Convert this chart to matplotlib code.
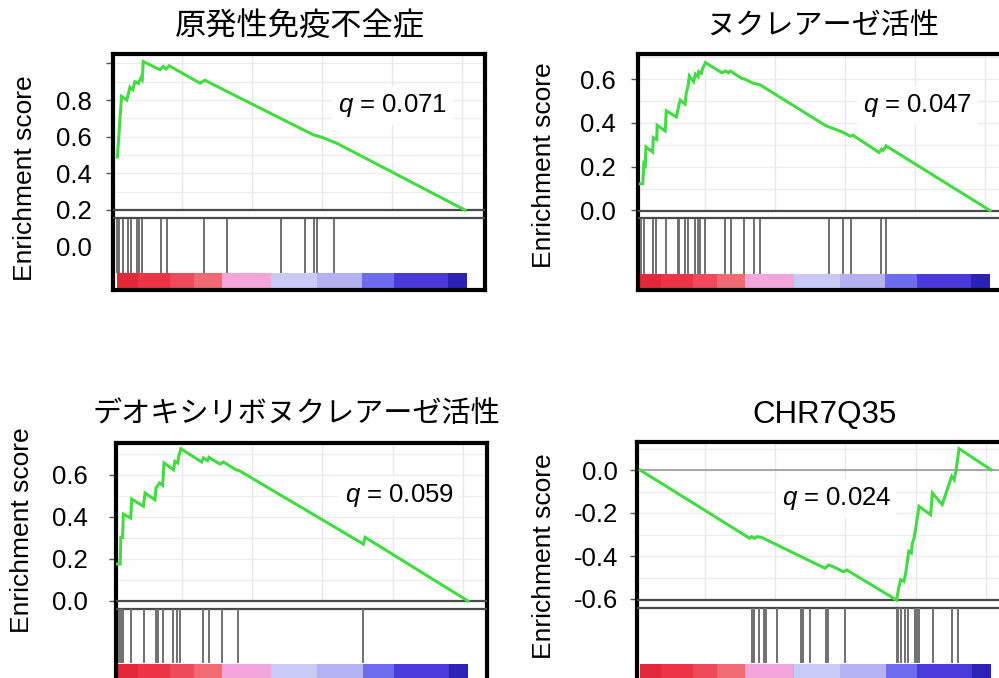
import numpy as np
import matplotlib
matplotlib.use("Agg")
import matplotlib.pyplot as plt

plt.rcParams['font.family'] = ['Liberation Sans', 'Noto Sans CJK JP']
plt.rcParams['mathtext.fontset'] = 'custom'
plt.rcParams['mathtext.it'] = 'Liberation Sans:italic'
plt.rcParams['mathtext.rm'] = 'Liberation Sans'

W, H = 999, 678

titles = ["原発性免疫不全症", "ヌクレアーゼ活性", "デオキシリボヌクレアーゼ活性", "CHR7Q35"]
q_values = ["0.071", "0.047", "0.059", "0.024"]

# running enrichment score (x = position in ranked list, 0..1)
es1_x = [0.001, 0.009, 0.013, 0.028, 0.037, 0.045, 0.051, 0.061, 0.068, 0.072, 0.075, 0.123, 0.132,
         0.140, 0.149, 0.237, 0.251, 0.313, 0.561, 0.585, 0.628, 0.994]
es1_y = [0.49, 0.71, 0.82, 0.80, 0.87, 0.856, 0.90, 0.89, 0.92, 0.91, 1.01, 0.965, 0.983,
         0.969, 0.987, 0.892, 0.908, 0.848, 0.61, 0.597, 0.564, 0.20]
hits1 = [0.001, 0.004, 0.007, 0.018, 0.032, 0.039, 0.056, 0.064, 0.070, 0.125, 0.144, 0.249, 0.313,
         0.468, 0.537, 0.563, 0.572, 0.62]

es2_x = [0.001, 0.008, 0.011, 0.015, 0.017, 0.036, 0.038, 0.048, 0.049, 0.072, 0.075, 0.104, 0.111,
         0.115, 0.129, 0.132, 0.137, 0.141, 0.153, 0.158, 0.166, 0.168, 0.175, 0.179, 0.187, 0.234,
         0.244, 0.253, 0.258, 0.291, 0.301, 0.320, 0.344, 0.529, 0.539, 0.577, 0.587, 0.601, 0.608,
         0.683, 0.690, 0.695, 0.703, 1.0]
es2_y = [0.122, 0.122, 0.214, 0.206, 0.29, 0.267, 0.333, 0.324, 0.389, 0.363, 0.455, 0.427, 0.481,
         0.504, 0.486, 0.537, 0.565, 0.614, 0.588, 0.623, 0.611, 0.634, 0.626, 0.649, 0.675, 0.629,
         0.637, 0.629, 0.637, 0.603, 0.599, 0.583, 0.573, 0.389, 0.382, 0.359, 0.351, 0.339, 0.344,
         0.265, 0.28, 0.275, 0.295, 0.0]
hits2 = [0.004, 0.011, 0.036, 0.046, 0.074, 0.109, 0.112, 0.129, 0.137, 0.158, 0.166, 0.172, 0.185,
         0.242, 0.26, 0.296, 0.325, 0.344, 0.539, 0.579, 0.604, 0.689, 0.703]

es3_x = [0.001, 0.009, 0.011, 0.016, 0.018, 0.039, 0.042, 0.075, 0.080, 0.108, 0.111, 0.121, 0.130,
         0.134, 0.161, 0.165, 0.173, 0.177, 0.182, 0.241, 0.246, 0.258, 0.262, 0.293, 0.303, 0.339,
         0.348, 0.702, 0.707, 1.0]
es3_y = [0.176, 0.176, 0.303, 0.303, 0.414, 0.395, 0.486, 0.451, 0.514, 0.482, 0.538, 0.562, 0.551,
         0.657, 0.625, 0.665, 0.657, 0.697, 0.725, 0.662, 0.681, 0.668, 0.684, 0.652, 0.662, 0.625,
         0.621, 0.271, 0.303, 0.0]
hits3 = [0.006, 0.011, 0.018, 0.039, 0.077, 0.111, 0.118, 0.132, 0.16, 0.17, 0.179, 0.244, 0.263,
         0.298, 0.344, 0.702]

es4_x = [0.0, 0.313, 0.318, 0.326, 0.333, 0.347, 0.527, 0.537, 0.551, 0.579, 0.589, 0.731, 0.738,
         0.743, 0.752, 0.757, 0.766, 0.773, 0.776, 0.781, 0.795, 0.828, 0.833, 0.861, 0.888, 0.895,
         0.9, 0.909, 1.0]
es4_y = [0.0, -0.318, -0.31, -0.318, -0.31, -0.314, -0.457, -0.442, -0.45, -0.473, -0.465, -0.605,
         -0.541, -0.51, -0.518, -0.479, -0.378, -0.386, -0.34, -0.316, -0.169, -0.208, -0.107,
         -0.161, -0.029, -0.045, -0.006, 0.099, 0.001]
hits4 = [0.318, 0.325, 0.34, 0.353, 0.358, 0.389, 0.459, 0.465, 0.484, 0.53, 0.537, 0.584, 0.731,
         0.736, 0.745, 0.755, 0.764, 0.783, 0.788, 0.796, 0.836, 0.89, 0.907]

ticks1 = [0.0, 0.2, 0.4, 0.6, 0.8, 1.0]
ticklabels1 = ["0.0", "0.2", "0.4", "0.6", "0.8", ""]
ticks2 = [0.0, 0.2, 0.4, 0.6]
ticklabels2 = ["0.0", "0.2", "0.4", "0.6"]
ticks3 = [0.0, 0.2, 0.4, 0.6]
ticklabels3 = ["0.0", "0.2", "0.4", "0.6"]
ticks4 = [-0.6, -0.4, -0.2, 0.0]
ticklabels4 = ["-0.6", "-0.4", "-0.2", "0.0"]

# ranked-list colour bar (red = up, blue = down)
bar_edges = [0.0, 0.06, 0.15, 0.22, 0.30, 0.44, 0.57, 0.70, 0.79, 0.945, 1.0]
bar_colors = ['#e3283a', '#ec3444', '#ee4a5c', '#f06a74', '#f3a6da', '#cacaf6', '#b4b2f3',
              '#6e6cee', '#4a3adb', '#2b23b5']

# pixel layout of each panel (box, x origin/span, y reference, bands)
panels = [
    dict(es_x=es1_x, es_y=es1_y, hits=hits1, ticks=ticks1, labels=ticklabels1,
         box=(113, 54, 485, 290), x0=117, xspan=350, yval=0.2, ypx=210, ppu=183.3,
         dbl=(210, 218), hit=(220, 272), bar=(273, 288), title=(300, 27, 22.5),
         ylab=(25, 178), q=(338, 112), pad=10, zero=None),
    dict(es_x=es2_x, es_y=es2_y, hits=hits2, ticks=ticks2, labels=ticklabels2,
         box=(638, 54, 1010, 290), x0=640, xspan=350, yval=0.0, ypx=210.5, ppu=219,
         dbl=(211, 218.5), hit=(220, 273), bar=(274, 288), title=(823, 26, 21),
         ylab=(544, 165), q=(863, 112), pad=11, zero=None),
    dict(es_x=es3_x, es_y=es3_y, hits=hits3, ticks=ticks3, labels=ticklabels3,
         box=(116, 443, 487, 683), x0=117, xspan=351, yval=0.0, ypx=601, ppu=210,
         dbl=(601, 608.5), hit=(610, 662), bar=(664, 683), title=(296, 414, 21),
         ylab=(22, 530), q=(345, 502), pad=15, zero=None),
    dict(es_x=es4_x, es_y=es4_y, hits=hits4, ticks=ticks4, labels=ticklabels4,
         box=(637, 442, 1010, 683), x0=640, xspan=351, yval=0.0, ypx=470, ppu=215,
         dbl=(599.5, 607.5), hit=(609, 662), bar=(664, 683), title=(824, 415, 22.5),
         ylab=(544, 556), q=(782, 505), pad=8.6, zero=470),
]

fig = plt.figure(figsize=(W / 100, H / 100), dpi=100)

for i, p in enumerate(panels):
    l, t, r, b = p["box"]
    ax = fig.add_axes([l / W, 1 - b / H, (r - l) / W, (b - t) / H])
    frac = lambda py: (b - py) / (b - t)

    ax.set_xlim((l - p["x0"]) / p["xspan"], (r - p["x0"]) / p["xspan"])
    ylo = p["yval"] + (p["ypx"] - b) / p["ppu"]
    yhi = p["yval"] + (p["ypx"] - t) / p["ppu"]
    ax.set_ylim(ylo, yhi)

    # faint grid in the ES area
    ytop_es = frac(p["dbl"][0])
    for gx in [0.185, 0.385, 0.585, 0.785, 0.985]:
        ax.axvline(gx, ymin=ytop_es, ymax=1, color='#e8e8e8', lw=1, zorder=1)
    y_es_min = p["yval"] + (p["ypx"] - p["dbl"][0]) / p["ppu"]
    for gy in np.arange(np.ceil(y_es_min * 10) / 10, yhi, 0.1):
        ax.axhline(gy, xmin=0, xmax=1, color='#ececec', lw=1, zorder=1)

    if p["zero"] is not None:
        ax.plot([0, 1], [frac(p["zero"])] * 2, transform=ax.transAxes, color='#999999', lw=1.2, zorder=2)

    # double separator line
    for py in p["dbl"]:
        ax.plot([0, 1], [frac(py)] * 2, transform=ax.transAxes, color='#4a4a4a', lw=1.6, zorder=3)

    ax.plot(p["es_x"], p["es_y"], color='#42dc42', lw=2.2, zorder=4, solid_joinstyle='miter')

    for hx in p["hits"]:
        ax.axvline(hx, ymin=frac(p["hit"][1]), ymax=frac(p["hit"][0]), color='#707070', lw=1.4, zorder=3)

    for k in range(len(bar_colors)):
        ax.axvspan(bar_edges[k], bar_edges[k + 1], ymin=frac(p["bar"][1]), ymax=frac(p["bar"][0]),
                   color=bar_colors[k], lw=0, zorder=2)

    ax.set_xticks([])
    ax.set_yticks(p["ticks"], p["labels"])
    ax.tick_params(axis='y', direction='out', length=5, width=1, color='#555555',
                   labelsize=18.5, pad=p["pad"])
    if i == 0:
        ax.yaxis.get_major_ticks()[0].tick1line.set_visible(False)
    for s in ax.spines.values():
        s.set_linewidth(3)
        s.set_color('black')

    tx, ty, ts = p["title"]
    fig.text(tx / W, 1 - ty / H, titles[i], ha='center', va='center', fontsize=ts)
    fig.text(p["ylab"][0] / W, 1 - p["ylab"][1] / H, "Enrichment score", rotation=90,
             ha='center', va='center', fontsize=19)
    fig.text(p["q"][0] / W, 1 - p["q"][1] / H, "$q$ = " + q_values[i], ha='left', va='baseline',
             fontsize=18.5, bbox=dict(facecolor='white', edgecolor='none', pad=4), zorder=5)

fig.savefig("out.png", dpi=100)
